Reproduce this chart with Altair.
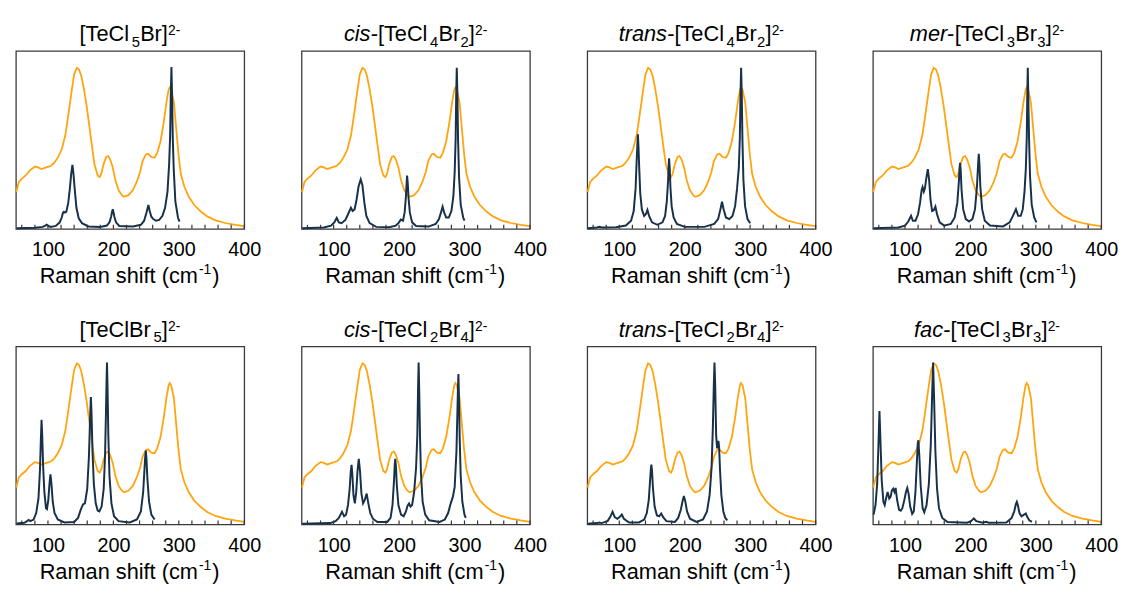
import altair as alt
import pandas as pd

# ---------------- data ----------------
# experimental Raman spectrum (same in every panel), normalised
EXP_X = [51.5, 55.5, 60, 66, 72, 80, 85, 90, 97.5, 105, 110, 115, 121, 126.6, 131, 136, 140, 144,
         147.5, 151, 155, 159, 163, 167, 171, 176, 179, 181.5, 185, 189, 192, 195, 199, 203, 208,
         213, 216, 223, 229.6, 235.7, 240.7, 244.7, 249.7, 253, 258, 263, 267, 272, 277, 281,
         284.4, 286, 288.4, 292.5, 296, 299.5, 303, 308.5, 315, 323.6, 333.6, 343.5, 356, 371, 386, 400]
EXP_Y = [0.228, 0.29, 0.31, 0.33, 0.36, 0.385, 0.38, 0.37, 0.38, 0.39, 0.41, 0.44, 0.49, 0.58,
         0.70, 0.845, 0.955, 0.995, 0.985, 0.945, 0.864, 0.763, 0.642, 0.52, 0.40, 0.33, 0.32,
         0.34, 0.40, 0.444, 0.45, 0.43, 0.38, 0.30, 0.238, 0.208, 0.198, 0.208, 0.238, 0.29, 0.35,
         0.42, 0.46, 0.464, 0.444, 0.44, 0.47, 0.54, 0.66, 0.78, 0.86, 0.874, 0.86, 0.78, 0.62,
         0.46, 0.34, 0.26, 0.20, 0.147, 0.107, 0.077, 0.052, 0.036, 0.024, 0.016]

# calculated spectra, (shift, intensity) points
CALC_1 = [(52, 0.004), (80, 0.006), (92, 0.012), (96, 0.02), (98, 0.026), (100, 0.02), (104, 0.012),
          (112, 0.018), (118, 0.04), (121, 0.07), (123, 0.1), (124.5, 0.105), (126, 0.1), (128, 0.105),
          (131, 0.16), (133.5, 0.25), (135.5, 0.34), (137.4, 0.396), (139, 0.34), (141, 0.24),
          (143.5, 0.13), (147, 0.065), (152, 0.035), (162, 0.015), (180, 0.012), (190, 0.02),
          (194, 0.04), (196.5, 0.075), (198, 0.105), (199, 0.121), (200, 0.105), (201.5, 0.075),
          (204, 0.04), (209, 0.018), (230, 0.014), (242, 0.025), (247, 0.05), (250.5, 0.1),
          (253.5, 0.147), (255.5, 0.11), (258, 0.075), (261, 0.06), (265, 0.05), (270, 0.055),
          (275, 0.08), (279, 0.13), (282.7, 0.23), (285.2, 0.4), (286.7, 0.57), (287.7, 0.82),
          (288.7, 1.0), (289.7, 0.82), (290.7, 0.57), (292.2, 0.37), (294.7, 0.17), (298.7, 0.07),
          (301, 0.045)]
CALC_2 = [(52, 0.004), (85, 0.008), (96, 0.02), (101, 0.04), (104.8, 0.067), (108, 0.04), (112, 0.035),
          (118, 0.055), (122, 0.09), (126.4, 0.13), (129, 0.11), (132, 0.12), (135, 0.18), (138, 0.26),
          (141.4, 0.305), (144, 0.27), (147, 0.16), (150, 0.08), (155, 0.035), (165, 0.012),
          (185, 0.01), (195, 0.02), (199, 0.035), (202.8, 0.057), (206, 0.05), (208.5, 0.1),
          (210.5, 0.2), (211.5, 0.28), (212.3, 0.329), (213.3, 0.28), (214.5, 0.19), (216.5, 0.1),
          (220, 0.04), (226, 0.018), (245, 0.014), (256, 0.03), (261, 0.06), (264, 0.1),
          (266.6, 0.137), (269, 0.1), (272, 0.07), (276, 0.07), (280, 0.11), (283, 0.2), (285, 0.35),
          (286.5, 0.56), (287.3, 0.82), (288.2, 0.995), (289.2, 0.82), (290.2, 0.55), (291.7, 0.32),
          (294.2, 0.15), (298, 0.07), (300, 0.05)]
CALC_3 = [(52, 0.004), (66, 0.008), (69.6, 0.012), (73, 0.008), (95, 0.01), (110, 0.02), (118, 0.05),
          (122, 0.11), (124.9, 0.25), (126.4, 0.41), (127.4, 0.5), (128.4, 0.585), (129.4, 0.5),
          (130.4, 0.38), (132, 0.22), (134.5, 0.12), (138, 0.08), (140.5, 0.09), (143, 0.117),
          (145.5, 0.08), (150, 0.04), (158, 0.025), (166, 0.04), (170, 0.08), (172.6, 0.17),
          (174.6, 0.3), (175.3, 0.38), (176.1, 0.436), (177.1, 0.37), (178.1, 0.26), (180, 0.14),
          (183, 0.07), (188, 0.03), (200, 0.012), (230, 0.012), (245, 0.03), (251, 0.06),
          (254.5, 0.12), (257, 0.167), (259.5, 0.12), (263, 0.07), (268, 0.06), (273, 0.08),
          (277, 0.14), (280, 0.25), (282.7, 0.38), (284.2, 0.56), (285.2, 0.82), (286.2, 0.995),
          (287.2, 0.82), (288.2, 0.55), (289.7, 0.3), (292.2, 0.14), (296, 0.06), (300, 0.035)]
CALC_4 = [(52, 0.004), (90, 0.008), (100, 0.02), (105, 0.045), (109.3, 0.081), (112, 0.05), (116, 0.05),
          (120, 0.09), (123, 0.16), (125.5, 0.24), (126.9, 0.258), (128.8, 0.23), (130.5, 0.25),
          (132.5, 0.31), (134.9, 0.369), (137, 0.3), (139, 0.18), (141.5, 0.11), (144, 0.115),
          (146.5, 0.137), (149, 0.09), (153, 0.04), (160, 0.02), (170, 0.03), (176, 0.07),
          (180, 0.16), (182.5, 0.3), (183.4, 0.37), (184.2, 0.408), (185.2, 0.36), (186.5, 0.24),
          (189, 0.12), (193, 0.06), (198, 0.045), (203, 0.06), (207, 0.12), (210, 0.26),
          (211.8, 0.4), (212.8, 0.464), (213.8, 0.4), (215.2, 0.26), (218, 0.12), (222, 0.05),
          (230, 0.02), (250, 0.015), (260, 0.04), (265, 0.08), (269.6, 0.121), (273, 0.08),
          (277, 0.08), (280, 0.12), (282.7, 0.23), (284.7, 0.37), (286.2, 0.57), (286.9, 0.82),
          (287.7, 0.995), (288.5, 0.82), (289.7, 0.55), (291.2, 0.32), (293.7, 0.15), (297.5, 0.07),
          (301, 0.04)]
CALC_5 = [(52, 0.005), (64, 0.01), (68, 0.02), (70.6, 0.027), (73, 0.02), (78, 0.03), (82, 0.07),
          (85.5, 0.16), (87.7, 0.33), (89.2, 0.53), (90.2, 0.646), (91.2, 0.55), (92.7, 0.35),
          (94.5, 0.2), (97, 0.1), (98.5, 0.095), (100.5, 0.15), (102.3, 0.25), (103.8, 0.309),
          (105.3, 0.25), (107.3, 0.14), (110, 0.07), (115, 0.03), (125, 0.012), (140, 0.015),
          (146, 0.04), (150, 0.09), (153.5, 0.123), (156.5, 0.13), (160, 0.22), (162.6, 0.42),
          (164.6, 0.68), (165.6, 0.787), (166.6, 0.68), (168.1, 0.45), (170.1, 0.25), (173, 0.13),
          (176, 0.085), (178.5, 0.08), (182, 0.11), (185.2, 0.22), (187.2, 0.42), (188.7, 0.7),
          (189.4, 0.86), (190.2, 1.0), (191, 0.86), (192.2, 0.56), (194, 0.3), (197, 0.13),
          (201, 0.05), (208, 0.02), (225, 0.012), (236, 0.03), (242, 0.08), (245.5, 0.2),
          (247.5, 0.34), (248.5, 0.41), (249.5, 0.456), (250.5, 0.41), (252, 0.28), (254.5, 0.14),
          (258, 0.06), (263, 0.03)]
CALC_6 = [(52, 0.004), (95, 0.008), (103, 0.02), (108, 0.04), (112.8, 0.078), (116, 0.05), (119, 0.06),
          (122, 0.12), (124.5, 0.22), (126.2, 0.33), (127.4, 0.368), (128.6, 0.31), (130.3, 0.18),
          (132.4, 0.13), (134.5, 0.2), (136.5, 0.33), (138.4, 0.405), (140.3, 0.33), (142.5, 0.19),
          (145, 0.13), (147.5, 0.15), (150.5, 0.19), (153, 0.13), (156, 0.07), (160, 0.035),
          (167, 0.015), (182, 0.015), (187, 0.04), (190, 0.12), (192.4, 0.28), (193.4, 0.37),
          (194.2, 0.405), (195.2, 0.36), (196.6, 0.24), (199, 0.12), (203, 0.06), (207, 0.05),
          (210.5, 0.08), (213, 0.115), (215.3, 0.129), (217.5, 0.11), (220, 0.12), (223, 0.2),
          (226, 0.35), (227.9, 0.55), (229, 0.83), (229.9, 1.0), (230.8, 0.83), (232, 0.55),
          (233.4, 0.32), (236, 0.14), (240, 0.06), (246, 0.025), (262, 0.015), (270, 0.03),
          (275, 0.07), (279, 0.13), (282.2, 0.17), (285, 0.23), (287.7, 0.45), (289.2, 0.7),
          (290, 0.84), (290.7, 0.93), (291.5, 0.8), (292.7, 0.53), (294.2, 0.3), (296.7, 0.14),
          (300, 0.06), (302, 0.04)]
CALC_7 = [(52, 0.004), (66, 0.008), (69.6, 0.012), (73, 0.008), (82, 0.02), (86, 0.045), (89.7, 0.078),
          (93, 0.045), (97, 0.035), (100.5, 0.045), (103.8, 0.061), (107, 0.035), (115, 0.012),
          (130, 0.012), (138, 0.03), (142, 0.07), (145, 0.15), (147, 0.27), (148.2, 0.34),
          (149, 0.37), (150, 0.33), (151.5, 0.22), (154, 0.11), (157.5, 0.055), (161, 0.05),
          (164, 0.067), (167, 0.045), (172, 0.02), (185, 0.015), (190, 0.04), (194, 0.09),
          (196.5, 0.14), (198.7, 0.176), (201, 0.14), (203.5, 0.08), (208, 0.035), (218, 0.015),
          (228, 0.03), (234, 0.08), (238, 0.18), (241, 0.35), (243, 0.6), (244.5, 0.87),
          (245.5, 1.0), (246.5, 0.87), (248, 0.55), (249.5, 0.47), (250.5, 0.5), (251.5, 0.517),
          (252.5, 0.48), (254, 0.33), (256, 0.18), (259, 0.08), (262, 0.04), (265, 0.025)]
CALC_8 = [(52, 0.06), (55, 0.12), (57.5, 0.25), (59.5, 0.5), (61, 0.70), (62.5, 0.52), (64.5, 0.27),
          (67, 0.14), (69, 0.12), (71, 0.16), (73.5, 0.2), (76, 0.16), (78, 0.17), (80, 0.21),
          (82, 0.22), (84, 0.2), (85.7, 0.225), (88, 0.15), (91, 0.09), (93.5, 0.085), (96, 0.1),
          (99, 0.15), (101.5, 0.2), (103.5, 0.225), (105.5, 0.19), (108, 0.11), (111, 0.065),
          (113.5, 0.08), (116, 0.2), (118, 0.37), (119.5, 0.5), (120.5, 0.52), (122, 0.42),
          (124, 0.24), (127, 0.1), (129.5, 0.075), (133, 0.12), (136.5, 0.25), (139.5, 0.5),
          (141.5, 0.8), (143, 1.0), (144.5, 0.78), (146.5, 0.45), (149, 0.22), (152, 0.1),
          (157, 0.04), (165, 0.015), (195, 0.01), (201, 0.02), (205.3, 0.037), (209, 0.02),
          (219, 0.01), (224, 0.016), (228, 0.01), (255, 0.012), (263, 0.04), (267, 0.08),
          (269.5, 0.125), (271, 0.139), (272.5, 0.12), (275, 0.07), (278, 0.05), (282, 0.06),
          (284.7, 0.067), (287, 0.045), (290, 0.025), (294, 0.015)]

CALC = [CALC_1, CALC_2, CALC_3, CALC_4, CALC_5, CALC_6, CALC_7, CALC_8]

# panel titles as text runs: (text, style) with style n=normal, i=italic, sub, sup
TITLES = [
    [("[TeCl", "n"), ("5", "sub"), ("Br]", "n"), ("2-", "sup")],
    [("cis-", "i"), ("[TeCl", "n"), ("4", "sub"), ("Br", "n"), ("2", "sub"), ("]", "n"), ("2-", "sup")],
    [("trans-", "i"), ("[TeCl", "n"), ("4", "sub"), ("Br", "n"), ("2", "sub"), ("]", "n"), ("2-", "sup")],
    [("mer-", "i"), ("[TeCl", "n"), ("3", "sub"), ("Br", "n"), ("3", "sub"), ("]", "n"), ("2-", "sup")],
    [("[TeClBr", "n"), ("5", "sub"), ("]", "n"), ("2-", "sup")],
    [("cis-", "i"), ("[TeCl", "n"), ("2", "sub"), ("Br", "n"), ("4", "sub"), ("]", "n"), ("2-", "sup")],
    [("trans-", "i"), ("[TeCl", "n"), ("2", "sub"), ("Br", "n"), ("4", "sub"), ("]", "n"), ("2-", "sup")],
    [("fac-", "i"), ("[TeCl", "n"), ("3", "sub"), ("Br", "n"), ("3", "sub"), ("]", "n"), ("2-", "sup")],
]
X_TITLE = [("Raman shift (cm", "n"), ("-1", "sup"), (")", "n")]

TICK_VALUES = [60, 80, 100, 120, 140, 160, 180, 200, 220, 240, 260, 280, 300, 320, 340, 360, 380, 400]
LABEL_VALUES = [100, 200, 300, 400]

# ---------------- styling ----------------
ORANGE = "#FFA40F"
NAVY = "#17314B"
FONT = "Liberation Sans"
W, H = 231, 180

# Liberation Sans (Arial-metric) advance widths in em, used to set the text runs side by side
EM = {'[': 0.278, ']': 0.278, 'T': 0.611, 'e': 0.556, 'C': 0.722, 'l': 0.222, 'B': 0.667,
      'r': 0.333, '-': 0.333, 'c': 0.5, 'i': 0.222, 's': 0.5, 't': 0.278, 'a': 0.556,
      'n': 0.556, 'm': 0.833, 'f': 0.278, 'R': 0.722, 'h': 0.556, ' ': 0.278, '(': 0.333,
      ')': 0.333}
for d in "0123456789":
    EM[d] = 0.556


def run_layers(runs, center, base, size, sub_size, sup_size, sub_dy, sup_dy, gap=0.2):
    styles = {"n": (size, 0, "normal"), "i": (size, 0, "italic"),
              "sub": (sub_size, sub_dy, "normal"), "sup": (sup_size, sup_dy, "normal")}
    widths = [sum(EM.get(c, 0.55) for c in t) * styles[s][0] + gap for t, s in runs]
    x = center - sum(widths) / 2
    out = []
    for (t, s), w in zip(runs, widths):
        fs, dy, fst = styles[s]
        out.append(
            alt.Chart(pd.DataFrame({"t": [t]})).mark_text(
                font=FONT, fontSize=fs, fontStyle=fst, align="left", baseline="alphabetic",
                color="black").encode(text="t:N", x=alt.value(x), y=alt.value(base + dy))
        )
        x += w
    return out


xs = alt.Scale(domain=[51, 400], nice=False, zero=False)
ys = alt.Scale(domain=[0, 1.1], nice=False, zero=False)


def panel(i):
    exp_df = pd.DataFrame({"x": EXP_X, "y": EXP_Y})
    calc_df = pd.DataFrame({"x": [p[0] for p in CALC[i]], "y": [p[1] for p in CALC[i]]})
    tick_df = pd.DataFrame({"x": TICK_VALUES})

    xaxis = alt.Axis(values=LABEL_VALUES, title=None, domain=False, ticks=False, tickSize=0,
                     grid=False, labelFlush=False, labelFontSize=20, labelColor="black",
                     labelPadding=11, labelFont=FONT)

    exp = alt.Chart(exp_df).mark_line(color=ORANGE, strokeWidth=1.8).encode(
        x=alt.X("x:Q", scale=xs, axis=xaxis, title=None),
        y=alt.Y("y:Q", scale=ys, axis=None),
    )
    calc = alt.Chart(calc_df).mark_line(color=NAVY, strokeWidth=2).encode(
        x=alt.X("x:Q", scale=xs, title=None),
        y=alt.Y("y:Q", scale=ys, axis=None),
    )
    ticks = alt.Chart(tick_df).mark_rule(color="#333333", strokeWidth=1.2).encode(
        x=alt.X("x:Q", scale=xs, title=None),
        y=alt.value(H),
        y2=alt.value(H - 4),
    )
    layers = [exp, calc, ticks]
    layers += run_layers(TITLES[i], W / 2, -10, 22, 15, 14, 6, -6)
    layers += run_layers(X_TITLE, W / 2, H + 55, 22, 15, 14, 6, -9, gap=1.0)
    return alt.layer(*layers).properties(width=W, height=H)


chart = alt.concat(*[panel(i) for i in range(8)], columns=4,
                   spacing={"row": 119, "column": 58}, bounds="flush").properties(
    padding={"left": 4, "top": 11, "right": 4, "bottom": 4}
).configure_view(stroke="#3a3a3a", strokeWidth=1.3).configure_text(font=FONT)

chart.save("out.html", embed_options={"renderer": "svg", "actions": False})
